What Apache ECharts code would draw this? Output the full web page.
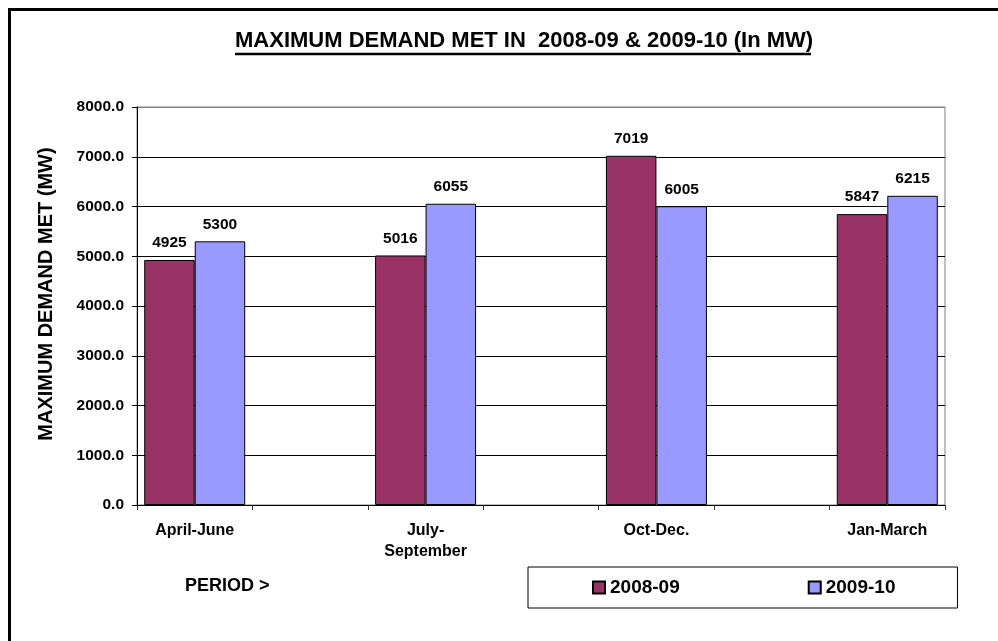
<!DOCTYPE html>
<html>
<head>
<meta charset="utf-8">
<title>Maximum demand met</title>
<script src="https://cdn.jsdelivr.net/npm/echarts@6/dist/echarts.min.js"></script>
<style>
  html, body { margin: 0; padding: 0; background: #fff; }
  #chart { width: 998px; height: 641px; }
</style>
</head>
<body>
<div id="chart"></div>
<script>
// periods, with empty slots between them (as in the original sheet)
const periods = ['April-June', '', 'July-\nSeptember', '', 'Oct-Dec.', '', 'Jan-March']
const demand0809 = [4925, '-', 5016, '-', 7019, '-', 5847]
const demand0910 = [5300, '-', 6055, '-', 6005, '-', 6215]
const seriesNames = ['2008-09', '2009-10']
const yTicks = [0, 1000, 2000, 3000, 4000, 5000, 6000, 7000, 8000]

const font = "'Liberation Sans', Arial, sans-serif"

const chart = echarts.init(document.getElementById('chart'))

chart.setOption({
  backgroundColor: '#fff',
  animation: false,
  title: [{
    text: 'MAXIMUM DEMAND MET IN  2008-09 & 2009-10 (In MW)',
    left: 235,
    top: 30,
    padding: 0,
    textStyle: {
      fontFamily: font,
      fontWeight: 'bold',
      fontSize: 22,
      color: '#000'
    }
  }, {
    text: 'PERIOD >',
    left: 185,
    top: 577,
    padding: 0,
    textStyle: {
      fontFamily: font,
      fontWeight: 'bold',
      fontSize: 18,
      color: '#000'
    }
  }],
  legend: {
    data: seriesNames,
    left: 528,
    top: 567,
    orient: 'horizontal',
    icon: 'rect',
    itemWidth: 12,
    itemHeight: 12,
    itemGap: 128,
    padding: [11, 62, 11, 64],
    borderColor: '#000',
    borderWidth: 1,
    backgroundColor: '#fff',
    textStyle: {
      fontFamily: font,
      fontWeight: 'bold',
      fontSize: 19,
      color: '#000'
    }
  },
  grid: {
    left: 137,
    right: 53,
    top: 107,
    bottom: 136,
    show: true,
    borderColor: '#808080',
    borderWidth: 1,
    backgroundColor: '#fff'
  },
  xAxis: {
    type: 'category',
    data: periods,
    axisLine: { lineStyle: { color: '#000', width: 1 } },
    axisTick: { show: true, length: 5, interval: 0, lineStyle: { color: '#333' } },
    axisLabel: {
      interval: 0,
      margin: 15,
      fontFamily: font,
      fontWeight: 'bold',
      fontSize: 16,
      lineHeight: 21,
      color: '#000'
    }
  },
  yAxis: {
    type: 'value',
    min: yTicks[0],
    max: yTicks[yTicks.length - 1],
    interval: 1000,
    name: 'MAXIMUM DEMAND MET (MW)',
    nameLocation: 'middle',
    nameGap: 81,
    nameTextStyle: {
      fontFamily: font,
      fontWeight: 'bold',
      fontSize: 20,
      color: '#000',
      padding: [0, 0, 0, 24]
    },
    axisLine: { show: true, lineStyle: { color: '#000', width: 1 } },
    axisTick: { show: true, length: 5, lineStyle: { color: '#000' } },
    axisLabel: {
      margin: 13,
      fontFamily: font,
      fontWeight: 'bold',
      fontSize: 15.5,
      color: '#000',
      formatter: v => v.toFixed(1)
    },
    splitLine: {
      show: true,
      lineStyle: {
        color: ['#000', '#000', '#000', '#000', '#000', '#000', '#000', '#000', '#808080'],
        width: 1
      }
    }
  },
  series: [{
    name: seriesNames[0],
    type: 'bar',
    data: demand0809,
    barGap: 0,
    barCategoryGap: '12.5%',
    itemStyle: { color: '#993366', borderColor: '#000', borderWidth: 1 },
    label: {
      show: true,
      position: 'top',
      distance: 9,
      fontFamily: font,
      fontWeight: 'bold',
      fontSize: 15.5,
      color: '#000'
    }
  }, {
    name: seriesNames[1],
    type: 'bar',
    data: demand0910,
    barGap: 0,
    barCategoryGap: '12.5%',
    itemStyle: { color: '#9999FF', borderColor: '#000', borderWidth: 1 },
    label: {
      show: true,
      position: 'top',
      distance: 9,
      fontFamily: font,
      fontWeight: 'bold',
      fontSize: 15.5,
      color: '#000'
    }
  }],
  graphic: [{
    // outer frame of the sheet (right/bottom edges fall outside the picture)
    type: 'rect',
    left: 7,
    top: 7,
    silent: true,
    shape: { x: 0, y: 0, width: 1100, height: 800 },
    style: { fill: 'none', stroke: '#000', lineWidth: 3 }
  }, {
    // title underline
    type: 'line',
    silent: true,
    shape: { x1: 235, y1: 54, x2: 811, y2: 54 },
    style: { stroke: '#000', lineWidth: 2.5 }
  }]
})
</script>
</body>
</html>
